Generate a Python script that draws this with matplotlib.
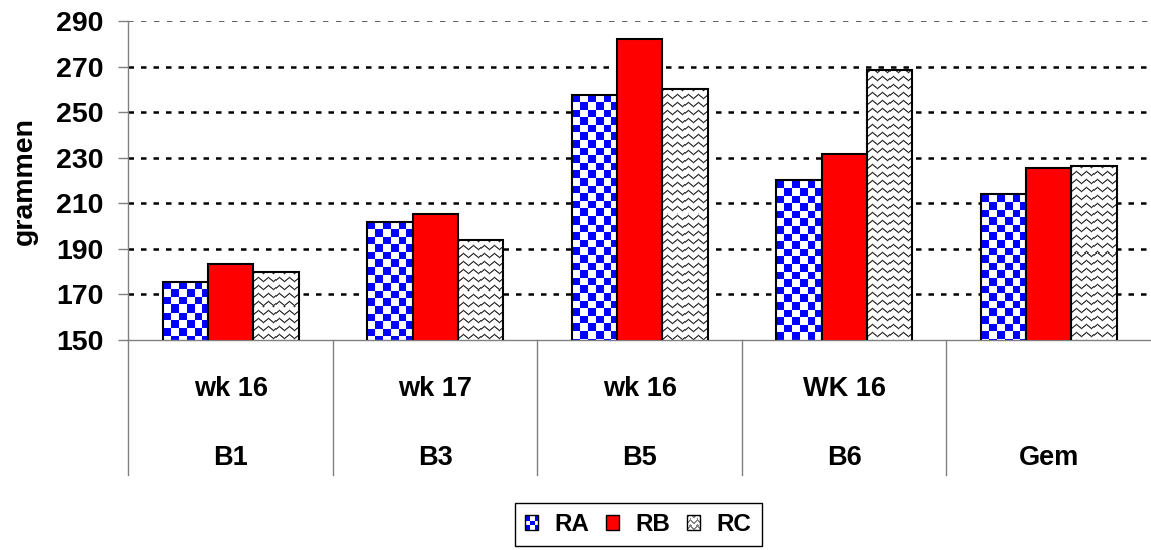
import numpy as np
import matplotlib
matplotlib.use('Agg')
import matplotlib.pyplot as plt
from matplotlib.patches import Rectangle
from matplotlib.legend_handler import HandlerBase
from matplotlib.image import BboxImage
from matplotlib.transforms import Bbox, TransformedBbox, blended_transform_factory

plt.rcParams['font.family'] = ['Liberation Sans', 'DejaVu Sans']
plt.rcParams['font.weight'] = 'bold'

weeks = ['wk 16', 'wk 17', 'wk 16', 'WK 16', '']
plots = ['B1', 'B3', 'B5', 'B6', 'Gem']
series = ['RA', 'RB', 'RC']
ra = [175.6, 201.9, 257.7, 220.1, 214.0]
rb = [183.3, 205.2, 282.3, 231.5, 225.3]
rc = [180.0, 194.0, 260.3, 268.4, 226.4]
yticks = [150, 170, 190, 210, 230, 250, 270, 290]

FS = 20.5
CAT_FS = 19.5
LEG_FS = 17.5


def checker(w, h, cell=7.6):
    yy, xx = np.mgrid[0:h, 0:w]
    on = ((xx // cell).astype(int) + (yy // cell).astype(int)) % 2 == 0
    img = np.ones((h, w, 3))
    img[on] = [0, 0, 1]
    return img


def waves(w, h, period=8.0, lam=10.0, amp=2.0, lw=1.6):
    yy, xx = np.mgrid[0:h, 0:w].astype(float)
    tri = amp * (2 * np.abs(2 * ((xx / lam) % 1) - 1) - 1)
    r = (yy - tri) % period
    d = np.minimum(r, period - r)
    v = np.clip(d - lw / 2 + 0.5, 0, 1)
    g = 0.2 + 0.8 * v
    return np.dstack([g, g, g])


class TexHandler(HandlerBase):
    def __init__(self, tex):
        super().__init__()
        self.tex = tex

    def create_artists(self, legend, orig_handle, xdescent, ydescent,
                       width, height, fontsize, trans):
        bb = TransformedBbox(Bbox.from_bounds(-xdescent, -ydescent, width, height), trans)
        img = BboxImage(bb, interpolation='nearest')
        img.set_data(self.tex)
        edge = Rectangle((-xdescent, -ydescent), width, height, facecolor='none',
                         edgecolor='black', linewidth=1, transform=trans)
        return [img, edge]


fig = plt.figure(figsize=(11.51, 5.5), dpi=100)
ax = fig.add_axes([0.1116, 0.3818, 0.8884, 0.58])

x = np.arange(len(plots))
w = 0.222
bars_a = ax.bar(x - w, ra, w, facecolor='none', edgecolor='black', linewidth=1.5, zorder=3)
bars_b = ax.bar(x, rb, w, facecolor='#ff0000', edgecolor='black', linewidth=1.5, zorder=3)
bars_c = ax.bar(x + w, rc, w, facecolor='none', edgecolor='black', linewidth=1.5, zorder=3)

ax.set_xlim(-0.5, len(plots) - 0.5)
ax.set_ylim(150, 290)

# textures for the patterned bars
for bars, make in ((bars_a, checker), (bars_c, waves)):
    for r in bars:
        x0 = r.get_x()
        x1 = x0 + r.get_width()
        y0 = max(r.get_y(), 150)
        y1 = r.get_y() + r.get_height()
        (px0, py0), (px1, py1) = ax.transData.transform([(x0, y0), (x1, y1)])
        tex = make(max(int(round(px1 - px0)), 1), max(int(round(py1 - py0)), 1))
        ax.imshow(tex, extent=(x0, x1, y0, y1), aspect='auto',
                  interpolation='nearest', zorder=2)

ax.set_xlim(-0.5, len(plots) - 0.5)
ax.set_ylim(150, 290)
ax.set_aspect('auto')

# dotted gridlines
ax.hlines(yticks[1:-1], -0.5, len(plots) - 0.5, colors='black',
          linestyles=(0, (2.2, 2.8)), linewidth=1.8, zorder=1)
ax.hlines(yticks[-1:], -0.5, len(plots) - 0.5, colors='#555555',
          linestyles=(0, (3.0, 4.2)), linewidth=1.3, zorder=1)

ax.set_yticks(yticks)
ax.set_xticks([])
ax.tick_params(axis='y', direction='out', length=7.2, width=1, color='#808080',
               pad=10.8, labelsize=FS)
for s in ('top', 'right'):
    ax.spines[s].set_visible(False)
for s in ('left', 'bottom'):
    ax.spines[s].set_color('#808080')
    ax.spines[s].set_linewidth(1)

ax.set_ylabel('grammen', fontsize=FS, fontweight='bold')
ax.yaxis.set_label_coords(-0.089, 0.5)

# two-level category axis
tr = blended_transform_factory(ax.transData, ax.transAxes)
for b in np.arange(len(plots)) - 0.5:
    ax.plot([b, b], [0, -0.423], color='#808080', linewidth=1, transform=tr, clip_on=False)
for i in range(len(plots)):
    ax.text(i, -0.155, weeks[i], transform=tr, ha='center', va='center', fontsize=CAT_FS)
    ax.text(i, -0.37, plots[i], transform=tr, ha='center', va='center', fontsize=CAT_FS)

# legend
h_a = Rectangle((0, 0), 1, 1)
h_b = Rectangle((0, 0), 1, 1, facecolor='#ff0000', edgecolor='black', linewidth=1)
h_c = Rectangle((0, 0), 1, 1)
leg = fig.legend([h_a, h_b, h_c], series, loc='upper center',
                 bbox_to_anchor=(0.5547, 0.0855), borderaxespad=0,
                 ncol=3, fontsize=LEG_FS, handlelength=0.5, handleheight=0.55,
                 handletextpad=0.7, columnspacing=0.7, borderpad=0.42,
                 fancybox=False, framealpha=1, edgecolor='black',
                 handler_map={h_a: TexHandler(checker(12, 13, cell=4.3)),
                              h_c: TexHandler(waves(12, 13, period=5, lam=6, amp=1.5, lw=1.2))})
leg.get_frame().set_linewidth(1)

fig.savefig('out.png', dpi=100)
